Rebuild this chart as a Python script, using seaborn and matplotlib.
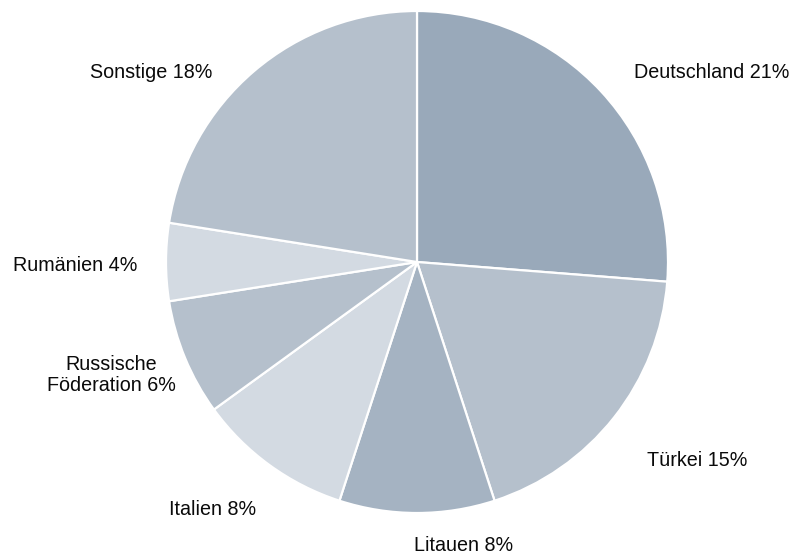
import matplotlib
matplotlib.use("Agg")
import matplotlib.pyplot as plt
import seaborn as sns

sns.set_theme(style="white")
plt.rcParams["font.family"] = ["Liberation Sans", "DejaVu Sans"]

# Shares by country of origin (labels show the stated percentages)
countries = ["Deutschland", "Türkei", "Litauen", "Italien",
             "Russische\nFöderation", "Rumänien", "Sonstige"]
shares = [21, 15, 8, 8, 6, 4, 18]
colors = ["#99A9BA", "#B5C0CC", "#A5B3C2", "#D3DAE2",
          "#B5C0CC", "#D3DAE2", "#B5C0CC"]

# Label anchor positions in data units (pie radius = 1)
label_pos = [(1.175, 0.753), (1.116, -0.789), (0.187, -1.131),
             (-0.813, -0.988), (-1.219, -0.450), (-1.363, -0.012),
             (-1.060, 0.753)]

W, H = 793, 560
fig = plt.figure(figsize=(W / 100, H / 100), dpi=100)
cx, cy, r = 417, 262, 251
ax = fig.add_axes([(cx - r) / W, (H - cy - r) / H, 2 * r / W, 2 * r / H])

wedges, _ = ax.pie(
    shares,
    colors=colors,
    startangle=90,
    counterclock=False,
    wedgeprops=dict(edgecolor="white", linewidth=1.6),
)

for name, val, (x, y) in zip(countries, shares, label_pos):
    ax.text(x, y, f"{name} {val}%", ha="center", va="center",
            fontsize=14.2, color="#0a0a0a", linespacing=1.12)

ax.set_xlim(-1, 1)
ax.set_ylim(-1, 1)
ax.set_aspect("equal")
ax.axis("off")

fig.savefig("out.png", dpi=100, facecolor="white")
